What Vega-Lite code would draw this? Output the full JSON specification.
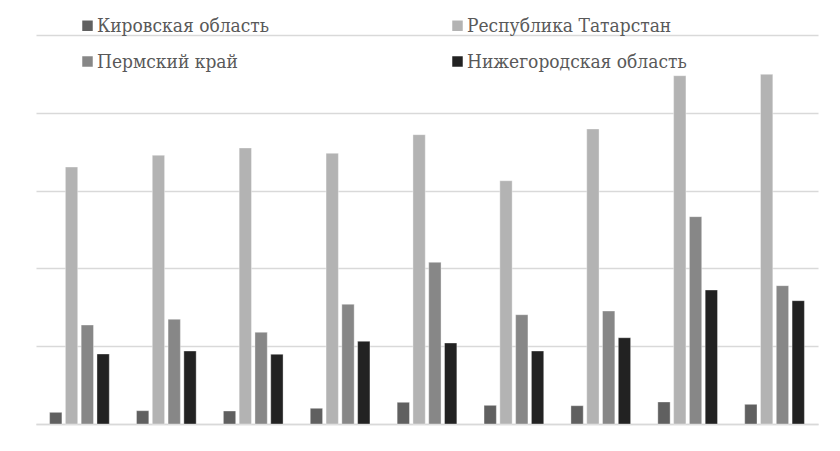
{
  "$schema": "https://vega.github.io/schema/vega-lite/v6.json",
  "autosize": {"type": "none"},
  "padding": {"left": 36, "top": 35, "right": 22, "bottom": 27},
  "width": 782,
  "height": 389,
  "background": "white",
  "config": {
    "view": {"stroke": null},
    "font": "DejaVu Serif Condensed, DejaVu Serif",
    "legend": {"labelFont": "DejaVu Serif Condensed, DejaVu Serif"}
  },
  "data": {
    "values": [
      {"g": "1", "s": "Кировская область", "v": 15.0},
      {"g": "1", "s": "Республика Татарстан", "v": 330.3},
      {"g": "1", "s": "Пермский край", "v": 127.2},
      {"g": "1", "s": "Нижегородская область", "v": 90.0},
      {"g": "2", "s": "Кировская область", "v": 17.1},
      {"g": "2", "s": "Республика Татарстан", "v": 345.4},
      {"g": "2", "s": "Пермский край", "v": 134.6},
      {"g": "2", "s": "Нижегородская область", "v": 93.8},
      {"g": "3", "s": "Кировская область", "v": 16.7},
      {"g": "3", "s": "Республика Татарстан", "v": 354.8},
      {"g": "3", "s": "Пермский край", "v": 117.9},
      {"g": "3", "s": "Нижегородская область", "v": 89.6},
      {"g": "4", "s": "Кировская область", "v": 20.2},
      {"g": "4", "s": "Республика Татарстан", "v": 347.9},
      {"g": "4", "s": "Пермский край", "v": 153.9},
      {"g": "4", "s": "Нижегородская область", "v": 106.3},
      {"g": "5", "s": "Кировская область", "v": 27.9},
      {"g": "5", "s": "Республика Татарстан", "v": 371.9},
      {"g": "5", "s": "Пермский край", "v": 207.8},
      {"g": "5", "s": "Нижегородская область", "v": 104.1},
      {"g": "6", "s": "Кировская область", "v": 24.0},
      {"g": "6", "s": "Республика Татарстан", "v": 312.7},
      {"g": "6", "s": "Пермский край", "v": 140.5},
      {"g": "6", "s": "Нижегородская область", "v": 93.8},
      {"g": "7", "s": "Кировская область", "v": 23.5},
      {"g": "7", "s": "Республика Татарстан", "v": 379.2},
      {"g": "7", "s": "Пермский край", "v": 145.2},
      {"g": "7", "s": "Нижегородская область", "v": 110.9},
      {"g": "8", "s": "Кировская область", "v": 28.3},
      {"g": "8", "s": "Республика Татарстан", "v": 447.7},
      {"g": "8", "s": "Пермский край", "v": 266.5},
      {"g": "8", "s": "Нижегородская область", "v": 172.2},
      {"g": "9", "s": "Кировская область", "v": 25.3},
      {"g": "9", "s": "Республика Татарстан", "v": 449.5},
      {"g": "9", "s": "Пермский край", "v": 177.8},
      {"g": "9", "s": "Нижегородская область", "v": 158.5}
    ]
  },
  "mark": {"type": "bar", "stroke": "#ffffff", "strokeWidth": 0.6, "strokeOpacity": 0.6},
  "encoding": {
    "x": {
      "field": "g", "type": "nominal", "sort": null,
      "scale": {"paddingInner": 0.313, "paddingOuter": 0.1565},
      "axis": {"title": null, "labels": false, "ticks": false, "domain": true, "domainColor": "#d9d9d9", "domainWidth": 1.5}
    },
    "xOffset": {
      "field": "s", "type": "nominal",
      "sort": ["Кировская область", "Республика Татарстан", "Пермский край", "Нижегородская область"],
      "scale": {"paddingInner": 0.22, "paddingOuter": 0}
    },
    "y": {
      "field": "v", "type": "quantitative",
      "scale": {"domain": [0, 500], "nice": false},
      "axis": {"title": null, "labels": false, "ticks": false, "domain": false, "values": [0, 100, 200, 300, 400, 500], "gridColor": "#d9d9d9", "gridWidth": 1.5}
    },
    "color": {
      "field": "s", "type": "nominal",
      "sort": ["Кировская область", "Республика Татарстан", "Пермский край", "Нижегородская область"],
      "scale": {
        "domain": ["Кировская область", "Республика Татарстан", "Пермский край", "Нижегородская область"],
        "range": ["#606060", "#b3b3b3", "#878787", "#222222"]
      },
      "legend": {
        "title": null,
        "orient": "none",
        "legendX": 42,
        "legendY": -19,
        "direction": "horizontal",
        "columns": 2,
        "columnPadding": 178,
        "rowPadding": 16,
        "padding": 0,
        "symbolType": "square",
        "symbolSize": 110,
        "symbolStrokeWidth": 0,
        "symbolOffset": 0,
        "labelOffset": 0,
        "labelFontSize": 19,
        "labelColor": "#595959",
        "labelLimit": 400
      }
    }
  }
}
